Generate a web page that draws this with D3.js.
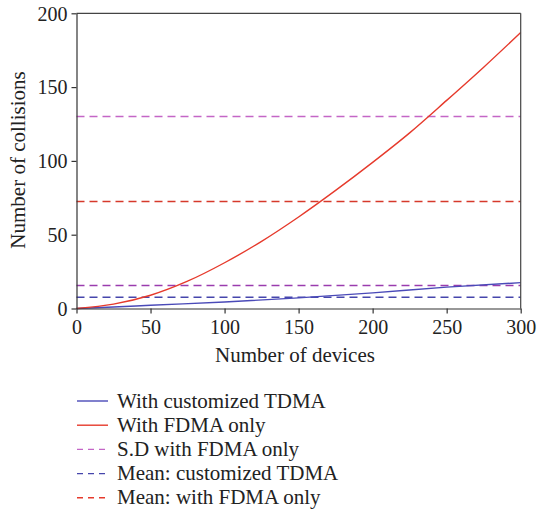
<!DOCTYPE html>
<html><head><meta charset="utf-8">
<script src="https://cdn.jsdelivr.net/npm/d3@7/dist/d3.min.js"></script>
<style>body{margin:0;background:#fff}svg{display:block}</style>
</head><body>
<svg id="c" width="537" height="511"></svg>
<script>
const devices = [0, 25, 50, 75, 100, 125, 150, 175, 200, 225, 250, 275, 300];
const fdmaOnly = [0, 3, 9, 18.5, 31, 45.5, 62, 80, 99, 119, 141, 163.5, 187];
const tdmaDevices = [0, 25, 50, 100, 150, 200, 250, 300];
const customTdma = [0, 1, 2.2, 4.4, 7.2, 10.6, 14.5, 17.5];
const refNames = ["S.D with FDMA only", "Mean: customized TDMA", "Mean: with FDMA only", "S.D customized TDMA"];
const refValues = [130, 7.6, 72.5, 15.5];
const refColors = ["#c466c6", "#4646ac", "#d6392b", "#9a3cae"];
const xTicks = [0, 50, 100, 150, 200, 250, 300];
const yTicks = [0, 50, 100, 150, 200];
const legendItems = [
  {name: "With customized TDMA", color: "#4a4ab8", dash: null},
  {name: "With FDMA only", color: "#e63a2c", dash: null},
  {name: "S.D with FDMA only", color: "#c466c6", dash: "6,5"},
  {name: "Mean: customized TDMA", color: "#4646ac", dash: "6,5"},
  {name: "Mean: with FDMA only", color: "#e63a2c", dash: "6,5"}
];

const svg = d3.select("#c");
const font = "Liberation Serif";
const L = 76.5, R = 520.7, T = 13.3, B = 308.5;
const x = d3.scaleLinear().domain([0, 300]).range([L, R]);
const y = d3.scaleLinear().domain([0, 200]).range([B, T]);

refValues.forEach((v, i) => {
  svg.append("line").attr("x1", x(0)).attr("x2", x(300))
    .attr("y1", y(v)).attr("y2", y(v))
    .attr("stroke", refColors[i]).attr("stroke-width", 1.5)
    .attr("stroke-dasharray", "8,5");
});

const line = d3.line().curve(d3.curveMonotoneX);
svg.append("path")
  .attr("d", line(tdmaDevices.map((d, i) => [x(d), y(customTdma[i])])))
  .attr("fill", "none").attr("stroke", "#4a4ab8").attr("stroke-width", 1.4);
svg.append("path")
  .attr("d", line(devices.map((d, i) => [x(d), y(fdmaOnly[i])])))
  .attr("fill", "none").attr("stroke", "#e63a2c").attr("stroke-width", 1.4);

svg.append("line").attr("x1", L).attr("x2", R).attr("y1", T).attr("y2", T).attr("stroke", "#444").attr("stroke-width", 1.2);
svg.append("line").attr("x1", R).attr("x2", R).attr("y1", T).attr("y2", B).attr("stroke", "#444").attr("stroke-width", 1.2);

const xAxis = svg.append("g").attr("transform", `translate(0,${B})`)
  .call(d3.axisBottom(x).tickValues(xTicks).tickSize(5).tickSizeOuter(0));
const yAxis = svg.append("g").attr("transform", `translate(${L},0)`)
  .call(d3.axisLeft(y).tickValues(yTicks).tickSize(5).tickSizeOuter(0));
[xAxis, yAxis].forEach(g => {
  g.attr("font-family", null);
  g.selectAll("path, line").attr("stroke", "#333").attr("stroke-width", 1.2);
  g.selectAll("text").style("font-family", font).style("font-size", "20px").attr("fill", "#222");
});
xAxis.selectAll("text").attr("y", 9).attr("dy", "0.8em");
yAxis.selectAll("text").attr("x", -9).attr("dy", "0.34em");

svg.append("text").attr("x", 295).attr("y", 362)
  .attr("text-anchor", "middle").style("font-family", font).style("font-size", "21px").attr("fill", "#222")
  .text("Number of devices");
svg.append("text").attr("transform", `translate(24.5,160) rotate(-90)`)
  .attr("text-anchor", "middle").style("font-family", font).style("font-size", "21px").attr("fill", "#222")
  .text("Number of collisions");

const lg = svg.append("g");
legendItems.forEach((d, i) => {
  const yy = 401 + i * 24.2;
  lg.append("line").attr("x1", 77).attr("x2", 108).attr("y1", yy).attr("y2", yy)
    .attr("stroke", d.color).attr("stroke-width", 1.4)
    .attr("stroke-dasharray", d.dash);
  lg.append("text").attr("x", 117).attr("y", yy + 6.5)
    .style("font-family", font).style("font-size", "21px").attr("fill", "#222")
    .text(d.name);
});
</script>
</body></html>
